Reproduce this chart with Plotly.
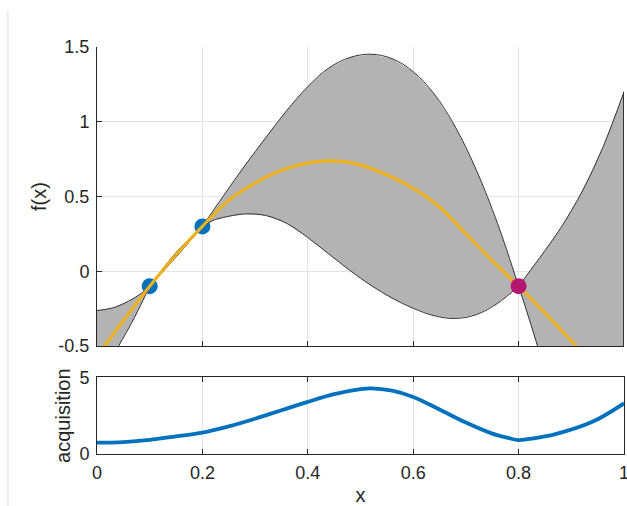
import plotly.graph_objects as go

# ---- data ----
x_upper = [0, 0.03, 0.06, 0.085, 0.1, 0.15, 0.2, 0.24, 0.28, 0.32, 0.36, 0.40, 0.44,
           0.48, 0.52, 0.56, 0.60, 0.64, 0.68, 0.72, 0.76, 0.8,
           0.84, 0.88, 0.92, 0.96, 1.0]
upper = [-0.263, -0.245, -0.2, -0.145, -0.1, 0.125, 0.3, 0.505, 0.704, 0.893, 1.075, 1.235, 1.36,
         1.43, 1.452, 1.422, 1.335, 1.185, 0.965, 0.675, 0.32, -0.1,
         0.09, 0.29, 0.53, 0.83, 1.2]

x_lower = [0, 0.02, 0.041, 0.071, 0.1, 0.15, 0.2, 0.22, 0.24, 0.28, 0.32, 0.36, 0.40, 0.44,
           0.48, 0.52, 0.56, 0.60, 0.64, 0.68, 0.72, 0.76, 0.8,
           0.84, 0.88, 0.92, 0.96, 1.0]
lower = [-0.74, -0.62, -0.5, -0.31, -0.1, 0.095, 0.3, 0.34, 0.36, 0.383, 0.373, 0.32, 0.225, 0.115,
         0.005, -0.095, -0.18, -0.248, -0.298, -0.316, -0.29, -0.215, -0.1,
         -0.55, -1.1, -1.65, -2.2, -2.8]

x_mean = [0, 0.05, 0.1, 0.15, 0.2, 0.25, 0.3, 0.35, 0.4, 0.435, 0.47, 0.5, 0.55, 0.6, 0.65,
          0.7, 0.75, 0.8, 0.85, 0.9, 0.95, 1.0]
mean = [-0.57, -0.33, -0.1, 0.11, 0.3, 0.475, 0.59, 0.675, 0.725, 0.738, 0.733, 0.71, 0.645, 0.555, 0.43,
        0.25, 0.07, -0.1, -0.28, -0.465, -0.65, -0.83]

obs_x = [0.1, 0.2]
obs_y = [-0.1, 0.3]
new_x = [0.8]
new_y = [-0.1]

acq_x = [0, 0.05, 0.1, 0.15, 0.2, 0.25, 0.3, 0.35, 0.4, 0.45, 0.5, 0.52, 0.56, 0.6, 0.65,
         0.7, 0.75, 0.78, 0.8, 0.82, 0.87, 0.94, 1.0]
acq_y = [0.74, 0.78, 0.92, 1.15, 1.39, 1.8, 2.3, 2.85, 3.4, 3.9, 4.23, 4.28, 4.13, 3.72, 2.9,
         2.05, 1.33, 1.05, 0.9, 0.98, 1.3, 2.1, 3.3]

x_ticks = [0, 0.2, 0.4, 0.6, 0.8, 1]
x_tick_labels = ["0", "0.2", "0.4", "0.6", "0.8", "1"]
f_ticks = [-0.5, 0, 0.5, 1, 1.5]
f_tick_labels = ["-0.5", "0", "0.5", "1", "1.5"]
acq_ticks = [0, 5]
acq_tick_labels = ["0", "5"]
kinks = [0, 0.1, 0.2, 0.8, 1.0]

# ---- styles ----
BAND = "#b3b3b3"
EDGE = "#333333"
YEL = "#EDB120"
BLUE = "#0072BD"
MAG = "#B5166F"
AX = "#262626"
GRID = "#e3e3e3"
FONT = "Liberation Sans, Arial, sans-serif"

fig = go.Figure()

def pick(xs, ys, a, b):
    px, py = [], []
    for xv, yv in zip(xs, ys):
        if a - 1e-9 <= xv <= b + 1e-9:
            px.append(xv)
            py.append(yv)
    return px, py

segments = list(zip(kinks[:-1], kinks[1:]))
# band fill
for a, b in segments:
    ux, uy = pick(x_upper, upper, a, b)
    lx, ly = pick(x_lower, lower, a, b)
    fig.add_trace(go.Scatter(x=ux + lx[::-1], y=uy + ly[::-1], mode="lines",
                             fill="toself", fillcolor=BAND, line=dict(width=0),
                             xaxis="x", yaxis="y", hoverinfo="skip"))

# observed points (under the mean line)
fig.add_trace(go.Scatter(x=obs_x, y=obs_y, mode="markers",
                         marker=dict(size=16, color=BLUE), xaxis="x", yaxis="y"))

# band outlines
for a, b in segments:
    for xs, ys in ((x_upper, upper), (x_lower, lower)):
        sx, sy = pick(xs, ys, a, b)
        fig.add_trace(go.Scatter(x=sx, y=sy, mode="lines",
                                 line=dict(color=EDGE, width=1, shape="spline"),
                                 xaxis="x", yaxis="y", hoverinfo="skip"))
fig.add_trace(go.Scatter(x=[x_upper[-1], x_lower[-1]], y=[upper[-1], lower[-1]], mode="lines",
                         line=dict(color=EDGE, width=2), xaxis="x", yaxis="y"))

# mean
fig.add_trace(go.Scatter(x=x_mean, y=mean, mode="lines",
                         line=dict(color=YEL, width=3.2, shape="spline"),
                         xaxis="x", yaxis="y"))
# new point
fig.add_trace(go.Scatter(x=new_x, y=new_y, mode="markers",
                         marker=dict(size=16, color=MAG), xaxis="x", yaxis="y"))

# acquisition
fig.add_trace(go.Scatter(x=acq_x, y=acq_y, mode="lines",
                         line=dict(color=BLUE, width=3.8, shape="spline"),
                         xaxis="x2", yaxis="y2"))

axis_common = dict(color=AX, linecolor=AX, linewidth=1, gridcolor=GRID, gridwidth=1,
                   ticks="inside", ticklen=5, tickcolor=AX, tickwidth=1,
                   zeroline=False, tickfont=dict(family=FONT, size=18, color=AX))

fig.update_layout(
    width=627, height=506,
    margin=dict(l=97, r=3, t=47, b=52),
    paper_bgcolor="white", plot_bgcolor="white",
    showlegend=False,
    font=dict(family=FONT, size=18, color=AX),
    xaxis=dict(axis_common, domain=[0, 1], range=[0, 1], tickvals=x_ticks,
               ticktext=x_tick_labels, showticklabels=False, showline=True,
               anchor="y", showgrid=True),
    yaxis=dict(axis_common, domain=[0.2654, 1], range=[-0.5, 1.5], tickvals=f_ticks,
               ticktext=f_tick_labels, showline=True, anchor="x",
               ticklabelstandoff=3,
               title=dict(text="f(x)", font=dict(family=FONT, size=20, color=AX), standoff=6)),
    xaxis2=dict(axis_common, domain=[0, 1], range=[0, 1], tickvals=x_ticks,
                ticktext=x_tick_labels, showline=True, mirror="ticks", anchor="y2",
                ticklabelstandoff=2, ticklabeloverflow="allow", automargin=False,
                title=dict(text="x", font=dict(family=FONT, size=20, color=AX), standoff=11)),
    yaxis2=dict(axis_common, domain=[0, 0.1885], range=[0, 5], tickvals=acq_ticks,
                ticktext=acq_tick_labels, showline=True, mirror="ticks", anchor="x2",
                ticklabelstandoff=3,
                title=dict(text="acquisition", font=dict(family=FONT, size=20, color=AX), standoff=3)),
)

# faint window border on the left
fig.add_shape(type="line", xref="paper", yref="paper",
              x0=-0.169, x1=-0.169, y0=1.09, y1=-0.13,
              line=dict(color="#dcdcdc", width=1))

fig.write_html("out.html", config={"displayModeBar": False},
               post_script="document.body.style.margin='0';document.body.style.overflow='hidden';")
